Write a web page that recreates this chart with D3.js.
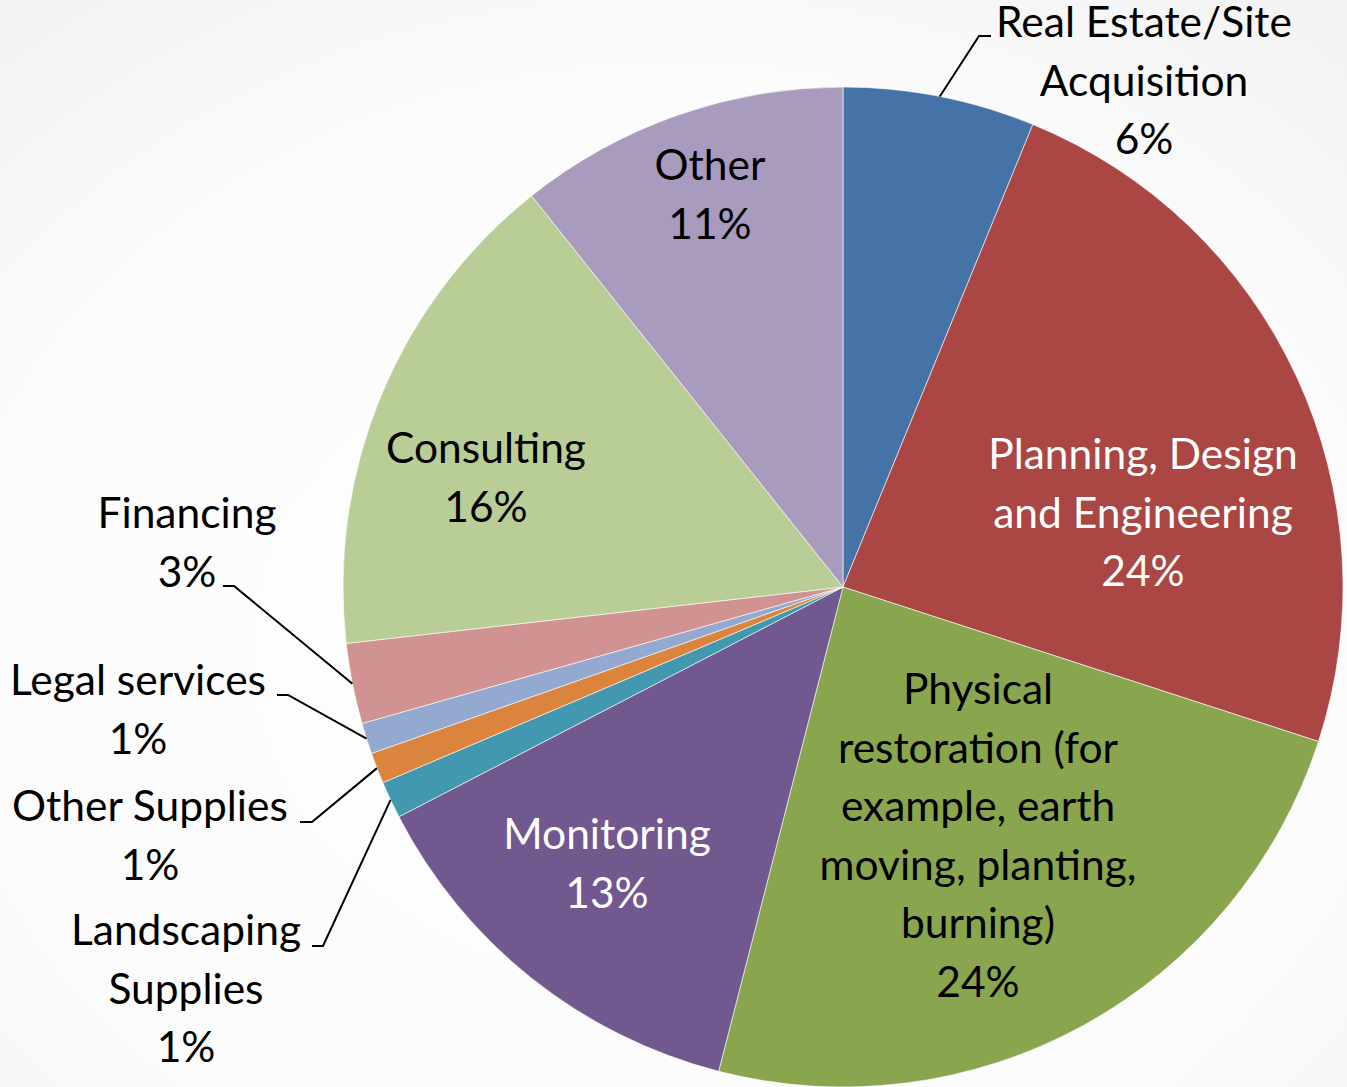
<!DOCTYPE html>
<html>
<head>
<meta charset="utf-8">
<script src="https://cdn.jsdelivr.net/npm/d3@7"></script>
<style>
  html, body { margin: 0; padding: 0; }
  body { width: 1347px; height: 1087px; overflow: hidden; }
  svg { display: block; }
  text { font-family: Lato, "Noto Sans", sans-serif; }
</style>
</head>
<body>
<svg id="chart" width="1347" height="1087"></svg>
<script>
// Restoration project spending by cost category (percent of total)
const categories = [
  "Real Estate/Site Acquisition",
  "Planning, Design and Engineering",
  "Physical restoration (for example, earth moving, planting, burning)",
  "Monitoring",
  "Landscaping Supplies",
  "Other Supplies",
  "Legal services",
  "Financing",
  "Consulting",
  "Other"
];
const shares = [6.2, 23.8, 24.0, 13.4, 1.2, 1.0, 1.0, 2.6, 16.1, 10.7];

// Wrapped label text for each category
const labelLines = [
  ["Real Estate/Site", "Acquisition"],
  ["Planning, Design", "and Engineering"],
  ["Physical", "restoration (for", "example, earth", "moving, planting,", "burning)"],
  ["Monitoring"],
  ["Landscaping", "Supplies"],
  ["Other Supplies"],
  ["Legal services"],
  ["Financing"],
  ["Consulting"],
  ["Other"]
];

const palette = ["#4572A7", "#AA4643", "#89A54E", "#71588F", "#4198AF",
                 "#DB843D", "#93A9CF", "#D19392", "#B9CD96", "#A99BBD"];
const labelColor = ["#000", "#fff", "#000", "#fff", "#000",
                    "#000", "#000", "#000", "#000", "#000"];

// Label placement: text centre x, first baseline y, and optional leader elbow
const labelLayout = [
  { x: 1144, y: 37,  elbow: [[991, 36], [979, 36]] },
  { x: 1143, y: 469 },
  { x: 978,  y: 704 },
  { x: 607,  y: 849 },
  { x: 186,  y: 945, elbow: [[312, 946], [323, 946]] },
  { x: 150,  y: 821, elbow: [[300, 822], [312, 822]] },
  { x: 138,  y: 695, elbow: [[277, 695], [288, 695]] },
  { x: 187,  y: 528, elbow: [[223, 586], [234, 586]] },
  { x: 486,  y: 463 },
  { x: 710,  y: 180 }
];

const W = 1347, H = 1087;
const cx = 843, cy = 587, R = 500;
const lineGap = 58.5;
const fontSize = 42.5;

const svg = d3.select("#chart");

// soft grey backdrop
const defs = svg.append("defs");
const grad = defs.append("radialGradient").attr("id", "bg")
  .attr("cx", "50%").attr("cy", "60%").attr("r", "75%");
grad.append("stop").attr("offset", "0%").attr("stop-color", "#ffffff");
grad.append("stop").attr("offset", "70%").attr("stop-color", "#fbfbfb");
grad.append("stop").attr("offset", "100%").attr("stop-color", "#f3f3f3");
svg.append("rect").attr("width", W).attr("height", H).attr("fill", "url(#bg)");

const data = categories.map((c, i) => ({ name: c, value: shares[i], i }));
const total = d3.sum(shares);

const pie = d3.pie().sort(null).value(d => d.value).startAngle(0).endAngle(2 * Math.PI);
const arcs = pie(data);
const arc = d3.arc().innerRadius(0).outerRadius(R);

const g = svg.append("g").attr("transform", `translate(${cx},${cy})`);

g.selectAll("path.slice")
  .data(arcs)
  .join("path")
  .attr("class", "slice")
  .attr("d", arc)
  .attr("fill", d => palette[d.data.i])
  .attr("stroke", "#ffffff")
  .attr("stroke-width", 0.6);

// leader lines for labels placed outside the pie
const edge = d3.arc().innerRadius(R).outerRadius(R);
arcs.forEach(d => {
  const L = labelLayout[d.data.i];
  if (!L.elbow) return;
  const [ex, ey] = edge.centroid(d);
  const pts = L.elbow.concat([[ex + cx, ey + cy]]);
  svg.append("path")
    .attr("d", d3.line()(pts))
    .attr("fill", "none")
    .attr("stroke", "#000")
    .attr("stroke-width", 2);
});

const pct = v => Math.round(v / total * 100) + "%";

arcs.forEach(d => {
  const i = d.data.i;
  const L = labelLayout[i];
  const lines = labelLines[i].concat([pct(d.data.value)]);
  const t = svg.append("text")
    .attr("text-anchor", "middle")
    .attr("font-size", fontSize)
    .attr("fill", labelColor[i]);
  lines.forEach((s, k) => {
    t.append("tspan").attr("x", L.x).attr("y", L.y + k * lineGap).text(s);
  });
});
</script>
</body>
</html>
